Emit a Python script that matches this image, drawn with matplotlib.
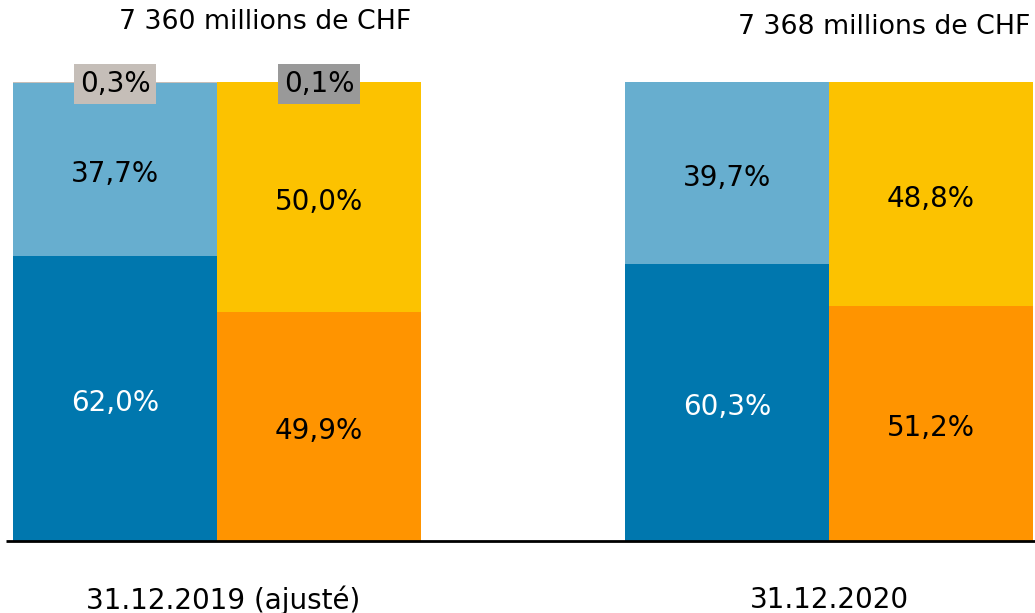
import matplotlib.pyplot as plt
import numpy as np

# stacked shares per bar (bottom -> top), in percent
bar_pos = [0, 1, 3, 4]
bottom_vals = [62.0, 49.9, 60.3, 51.2]
middle_vals = [37.7, 50.0, 39.7, 48.8]
top_vals = [0.3, 0.1, 0.0, 0.0]

bottom_labels = ["62,0%", "49,9%", "60,3%", "51,2%"]
middle_labels = ["37,7%", "50,0%", "39,7%", "48,8%"]
top_labels = ["0,3%", "0,1%", "", ""]

bottom_colors = ["#0077ae", "#ff9400", "#0077ae", "#ff9400"]
middle_colors = ["#67aecf", "#fcc200", "#67aecf", "#fcc200"]
top_colors = ["#c5beb8", "#999999", "#c5beb8", "#999999"]
bottom_text_colors = ["white", "black", "white", "black"]

group_labels = ["31.12.2019 (ajusté)", "31.12.2020"]
totals = ["7 360 millions de CHF", "7 368 millions de CHF"]

fig = plt.figure(figsize=(10.35, 6.13), dpi=100)
ax = fig.add_axes([0, 0, 1, 1])
ax.set_xlim(-115 / 204, 920 / 204)
ax.set_ylim(-72 / 4.59, 541 / 4.59)
ax.axis("off")

b = np.array(bottom_vals)
m = np.array(middle_vals)
t = np.array(top_vals)
ax.bar(bar_pos, b, width=1.0, color=bottom_colors, linewidth=0)
ax.bar(bar_pos, m, width=1.0, bottom=b, color=middle_colors, linewidth=0)
ax.bar(bar_pos, t, width=1.0, bottom=b + m, color=top_colors, linewidth=0)

fs = 20
for i, x in enumerate(bar_pos):
    ax.text(x, b[i] / 2 - 1, bottom_labels[i], ha="center", va="center",
            fontsize=fs, color=bottom_text_colors[i])
    ax.text(x, b[i] + m[i] / 2 - 1, middle_labels[i], ha="center", va="center",
            fontsize=fs, color="black")
    if top_labels[i]:
        ax.text(x, 99.6, top_labels[i], ha="center", va="center",
                fontsize=fs, color="black",
                bbox=dict(boxstyle="square,pad=0.22", fc=top_colors[i], ec="none"))

# baseline
ax.plot([-109 / 204, 4.51], [0, 0], color="black", lw=2, solid_capstyle="butt")

# group labels and totals
ax.text(0.53, -12.9, group_labels[0], ha="center", va="center", fontsize=fs)
ax.text(3.5, -12.9, group_labels[1], ha="center", va="center", fontsize=fs)
ax.text(0.735, 113.0, totals[0], ha="center", va="center", fontsize=19.3)
ax.text(3.77, 111.9, totals[1], ha="center", va="center", fontsize=19.3)

fig.savefig("out.png", dpi=100)
